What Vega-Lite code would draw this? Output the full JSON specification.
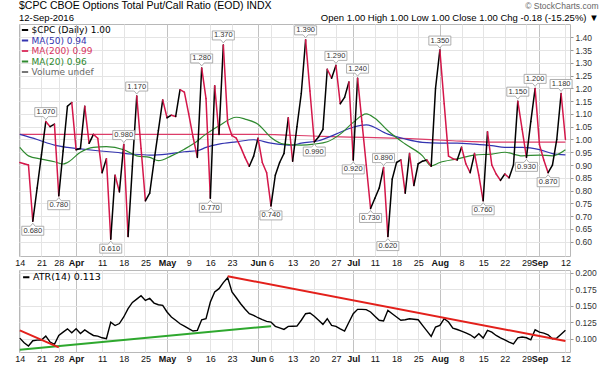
{
  "$schema": "https://vega.github.io/schema/vega-lite/v6.json",
  "background": "white",
  "padding": {"left": 14, "top": 0, "right": 5, "bottom": 2},
  "config": {
    "font": "Liberation Sans",
    "view": {"stroke": "#b8b8b8"},
    "axisY": {"labelOverlap": false, "domain": false, "tickSize": 3, "tickColor": "#999", "labelFontSize": 8.5, "labelColor": "#333", "labelPadding": 2, "grid": true, "gridColor": "#e4e4e4", "title": null},
    "axisX": {"labelOverlap": false, "domain": false, "ticks": false, "labelAngle": 0, "labelFontSize": 9, "labelColor": "#111", "labelPadding": 2, "grid": true, "title": null}
  },
  "title": {
    "text": "$CPC CBOE Options Total Put/Call Ratio (EOD) INDX",
    "subtitle": "12-Sep-2016",
    "anchor": "start",
    "frame": "group",
    "fontSize": 10.5,
    "fontWeight": "normal",
    "color": "#000",
    "subtitleFontSize": 9.5,
    "subtitleColor": "#000",
    "subtitlePadding": 2,
    "offset": -21
  },
  "spacing": 0,
  "resolve": {"scale": {"x": "shared", "color": "independent"}, "legend": {"color": "independent"}},
  "datasets": {
    "daily": [
      {"d": "2016-03-14", "cpc": 0.91, "atr": 0.101},
      {"d": "2016-03-15", "cpc": 0.905, "atr": 0.094},
      {"d": "2016-03-16", "cpc": 0.9, "atr": 0.089},
      {"d": "2016-03-17", "cpc": 0.68, "atr": 0.097},
      {"d": "2016-03-18", "cpc": 0.81, "atr": 0.098},
      {"d": "2016-03-21", "cpc": 0.94, "atr": 0.098},
      {"d": "2016-03-22", "cpc": 1.07, "atr": 0.104},
      {"d": "2016-03-23", "cpc": 1.05, "atr": 0.095},
      {"d": "2016-03-24", "cpc": 1.06, "atr": 0.0915},
      {"d": "2016-03-28", "cpc": 0.78, "atr": 0.105},
      {"d": "2016-03-29", "cpc": 0.955, "atr": 0.11},
      {"d": "2016-03-30", "cpc": 1.13, "atr": 0.115},
      {"d": "2016-03-31", "cpc": 1.145, "atr": 0.109},
      {"d": "2016-04-01", "cpc": 0.96, "atr": 0.115},
      {"d": "2016-04-04", "cpc": 0.965, "atr": 0.108},
      {"d": "2016-04-05", "cpc": 1.13, "atr": 0.1135},
      {"d": "2016-04-06", "cpc": 0.985, "atr": 0.109},
      {"d": "2016-04-07", "cpc": 1.02, "atr": 0.105},
      {"d": "2016-04-08", "cpc": 1.005, "atr": 0.104},
      {"d": "2016-04-11", "cpc": 0.87, "atr": 0.1015},
      {"d": "2016-04-12", "cpc": 0.925, "atr": 0.1},
      {"d": "2016-04-13", "cpc": 0.61, "atr": 0.125},
      {"d": "2016-04-14", "cpc": 0.86, "atr": 0.12},
      {"d": "2016-04-15", "cpc": 0.795, "atr": 0.123},
      {"d": "2016-04-18", "cpc": 0.98, "atr": 0.133},
      {"d": "2016-04-19", "cpc": 0.62, "atr": 0.1455},
      {"d": "2016-04-20", "cpc": 0.895, "atr": 0.155},
      {"d": "2016-04-21", "cpc": 1.17, "atr": 0.16},
      {"d": "2016-04-22", "cpc": 0.965, "atr": 0.165},
      {"d": "2016-04-25", "cpc": 0.76, "atr": 0.158},
      {"d": "2016-04-26", "cpc": 0.79, "atr": 0.161},
      {"d": "2016-04-27", "cpc": 0.915, "atr": 0.154},
      {"d": "2016-04-28", "cpc": 1.035, "atr": 0.1515},
      {"d": "2016-04-29", "cpc": 1.155, "atr": 0.1505},
      {"d": "2016-05-02", "cpc": 1.085, "atr": 0.1405},
      {"d": "2016-05-03", "cpc": 1.095, "atr": 0.133},
      {"d": "2016-05-04", "cpc": 1.09, "atr": 0.128},
      {"d": "2016-05-05", "cpc": 1.195, "atr": 0.1227},
      {"d": "2016-05-06", "cpc": 1.185, "atr": 0.119},
      {"d": "2016-05-09", "cpc": 1.1, "atr": 0.1152},
      {"d": "2016-05-10", "cpc": 1.01, "atr": 0.1117},
      {"d": "2016-05-11", "cpc": 0.93, "atr": 0.1127},
      {"d": "2016-05-12", "cpc": 1.28, "atr": 0.1288},
      {"d": "2016-05-13", "cpc": 1.16, "atr": 0.1303},
      {"d": "2016-05-16", "cpc": 0.77, "atr": 0.1556},
      {"d": "2016-05-17", "cpc": 1.21, "atr": 0.1708},
      {"d": "2016-05-18", "cpc": 1.02, "atr": 0.1758},
      {"d": "2016-05-19", "cpc": 1.37, "atr": 0.185},
      {"d": "2016-05-20", "cpc": 1.065, "atr": 0.1924},
      {"d": "2016-05-23", "cpc": 1.015, "atr": 0.1708},
      {"d": "2016-05-24", "cpc": 1.005, "atr": 0.162},
      {"d": "2016-05-25", "cpc": 0.97, "atr": 0.153},
      {"d": "2016-05-26", "cpc": 0.93, "atr": 0.145},
      {"d": "2016-05-27", "cpc": 0.895, "atr": 0.138},
      {"d": "2016-05-31", "cpc": 0.935, "atr": 0.1355},
      {"d": "2016-06-01", "cpc": 1.005, "atr": 0.1318},
      {"d": "2016-06-02", "cpc": 0.91, "atr": 0.129},
      {"d": "2016-06-03", "cpc": 0.87, "atr": 0.1264},
      {"d": "2016-06-06", "cpc": 0.74, "atr": 0.1253},
      {"d": "2016-06-07", "cpc": 0.86, "atr": 0.1188},
      {"d": "2016-06-08", "cpc": 0.91, "atr": 0.1165},
      {"d": "2016-06-09", "cpc": 0.945, "atr": 0.1142},
      {"d": "2016-06-10", "cpc": 1.085, "atr": 0.1188},
      {"d": "2016-06-13", "cpc": 0.915, "atr": 0.119},
      {"d": "2016-06-14", "cpc": 1.05, "atr": 0.1192},
      {"d": "2016-06-15", "cpc": 1.18, "atr": 0.128},
      {"d": "2016-06-16", "cpc": 1.39, "atr": 0.1379},
      {"d": "2016-06-17", "cpc": 1.19, "atr": 0.139},
      {"d": "2016-06-20", "cpc": 0.99, "atr": 0.134},
      {"d": "2016-06-21", "cpc": 1.01, "atr": 0.128},
      {"d": "2016-06-22", "cpc": 1.04, "atr": 0.1218},
      {"d": "2016-06-23", "cpc": 1.275, "atr": 0.1303},
      {"d": "2016-06-24", "cpc": 1.24, "atr": 0.1203},
      {"d": "2016-06-27", "cpc": 1.29, "atr": 0.1188},
      {"d": "2016-06-28", "cpc": 1.14, "atr": 0.115},
      {"d": "2016-06-29", "cpc": 1.165, "atr": 0.1117},
      {"d": "2016-06-30", "cpc": 1.225, "atr": 0.125},
      {"d": "2016-07-01", "cpc": 0.92, "atr": 0.1379},
      {"d": "2016-07-05", "cpc": 1.24, "atr": 0.1445},
      {"d": "2016-07-06", "cpc": 1.07, "atr": 0.1445},
      {"d": "2016-07-07", "cpc": 0.9, "atr": 0.144},
      {"d": "2016-07-08", "cpc": 0.73, "atr": 0.1405},
      {"d": "2016-07-11", "cpc": 0.77, "atr": 0.134},
      {"d": "2016-07-12", "cpc": 0.81, "atr": 0.128},
      {"d": "2016-07-13", "cpc": 0.89, "atr": 0.1268},
      {"d": "2016-07-14", "cpc": 0.62, "atr": 0.143},
      {"d": "2016-07-15", "cpc": 0.845, "atr": 0.1379},
      {"d": "2016-07-18", "cpc": 0.91, "atr": 0.133},
      {"d": "2016-07-19", "cpc": 0.92, "atr": 0.128},
      {"d": "2016-07-20", "cpc": 0.79, "atr": 0.1288},
      {"d": "2016-07-21", "cpc": 0.945, "atr": 0.1303},
      {"d": "2016-07-22", "cpc": 0.82, "atr": 0.1295},
      {"d": "2016-07-25", "cpc": 0.905, "atr": 0.1288},
      {"d": "2016-07-26", "cpc": 0.915, "atr": 0.1203},
      {"d": "2016-07-27", "cpc": 0.92, "atr": 0.112},
      {"d": "2016-07-28", "cpc": 0.895, "atr": 0.1036},
      {"d": "2016-07-29", "cpc": 1.2, "atr": 0.1177},
      {"d": "2016-08-01", "cpc": 1.35, "atr": 0.1203},
      {"d": "2016-08-02", "cpc": 1.14, "atr": 0.1303},
      {"d": "2016-08-03", "cpc": 0.935, "atr": 0.1253},
      {"d": "2016-08-04", "cpc": 0.925, "atr": 0.1162},
      {"d": "2016-08-05", "cpc": 0.92, "atr": 0.114},
      {"d": "2016-08-08", "cpc": 0.97, "atr": 0.1117},
      {"d": "2016-08-09", "cpc": 0.905, "atr": 0.109},
      {"d": "2016-08-10", "cpc": 0.87, "atr": 0.1061},
      {"d": "2016-08-11", "cpc": 0.945, "atr": 0.1015},
      {"d": "2016-08-12", "cpc": 0.86, "atr": 0.1076},
      {"d": "2016-08-15", "cpc": 0.76, "atr": 0.101},
      {"d": "2016-08-16", "cpc": 1.03, "atr": 0.1127},
      {"d": "2016-08-17", "cpc": 0.9, "atr": 0.11},
      {"d": "2016-08-18", "cpc": 0.865, "atr": 0.105},
      {"d": "2016-08-19", "cpc": 0.84, "atr": 0.1015},
      {"d": "2016-08-22", "cpc": 0.865, "atr": 0.0985},
      {"d": "2016-08-23", "cpc": 0.85, "atr": 0.095},
      {"d": "2016-08-24", "cpc": 0.9, "atr": 0.0924},
      {"d": "2016-08-25", "cpc": 1.15, "atr": 0.1015},
      {"d": "2016-08-26", "cpc": 1.04, "atr": 0.1026},
      {"d": "2016-08-29", "cpc": 0.93, "atr": 0.1015},
      {"d": "2016-08-30", "cpc": 1.07, "atr": 0.0985},
      {"d": "2016-08-31", "cpc": 1.2, "atr": 0.1136},
      {"d": "2016-09-01", "cpc": 0.98, "atr": 0.11},
      {"d": "2016-09-02", "cpc": 0.92, "atr": 0.1086},
      {"d": "2016-09-06", "cpc": 0.87, "atr": 0.1061},
      {"d": "2016-09-07", "cpc": 0.9, "atr": 0.1},
      {"d": "2016-09-08", "cpc": 1.0, "atr": 0.101},
      {"d": "2016-09-09", "cpc": 1.18, "atr": 0.107},
      {"d": "2016-09-12", "cpc": 1.0, "atr": 0.113}
    ],
    "highs": [
      {"d": "2016-03-22", "v": 1.07}, {"d": "2016-04-18", "v": 0.98}, {"d": "2016-04-21", "v": 1.17},
      {"d": "2016-05-12", "v": 1.28}, {"d": "2016-05-19", "v": 1.37}, {"d": "2016-06-16", "v": 1.39},
      {"d": "2016-06-27", "v": 1.29}, {"d": "2016-07-05", "v": 1.24}, {"d": "2016-07-13", "v": 0.89},
      {"d": "2016-08-01", "v": 1.35}, {"d": "2016-08-25", "v": 1.15}, {"d": "2016-08-31", "v": 1.2},
      {"d": "2016-09-09", "v": 1.18}
    ],
    "lows": [
      {"d": "2016-03-17", "v": 0.68}, {"d": "2016-03-28", "v": 0.78}, {"d": "2016-04-13", "v": 0.61},
      {"d": "2016-05-16", "v": 0.77}, {"d": "2016-06-06", "v": 0.74}, {"d": "2016-06-20", "v": 0.99},
      {"d": "2016-07-01", "v": 0.92}, {"d": "2016-07-08", "v": 0.73}, {"d": "2016-07-14", "v": 0.62},
      {"d": "2016-08-15", "v": 0.76}, {"d": "2016-08-29", "v": 0.93}, {"d": "2016-09-06", "v": 0.87}
    ],
    "ma": [
      {"s": "MA(200) 0.99", "d": "2016-03-14", "v": 1.02},
      {"s": "MA(200) 0.99", "d": "2016-04-26", "v": 1.02},
      {"s": "MA(200) 0.99", "d": "2016-06-01", "v": 1.02},
      {"s": "MA(200) 0.99", "d": "2016-06-22", "v": 1.012},
      {"s": "MA(200) 0.99", "d": "2016-07-07", "v": 1.008},
      {"s": "MA(200) 0.99", "d": "2016-07-21", "v": 1.003},
      {"s": "MA(200) 0.99", "d": "2016-08-04", "v": 0.995},
      {"s": "MA(200) 0.99", "d": "2016-08-18", "v": 0.99},
      {"s": "MA(200) 0.99", "d": "2016-09-12", "v": 0.99},
      {"s": "MA(50) 0.94", "d": "2016-03-14", "v": 1.02},
      {"s": "MA(50) 0.94", "d": "2016-03-18", "v": 1.0},
      {"s": "MA(50) 0.94", "d": "2016-03-24", "v": 0.978},
      {"s": "MA(50) 0.94", "d": "2016-03-30", "v": 0.969},
      {"s": "MA(50) 0.94", "d": "2016-04-04", "v": 0.963},
      {"s": "MA(50) 0.94", "d": "2016-04-08", "v": 0.956},
      {"s": "MA(50) 0.94", "d": "2016-04-14", "v": 0.95},
      {"s": "MA(50) 0.94", "d": "2016-04-20", "v": 0.943},
      {"s": "MA(50) 0.94", "d": "2016-04-26", "v": 0.939},
      {"s": "MA(50) 0.94", "d": "2016-05-02", "v": 0.943},
      {"s": "MA(50) 0.94", "d": "2016-05-06", "v": 0.952},
      {"s": "MA(50) 0.94", "d": "2016-05-11", "v": 0.956},
      {"s": "MA(50) 0.94", "d": "2016-05-13", "v": 0.969},
      {"s": "MA(50) 0.94", "d": "2016-05-18", "v": 0.982},
      {"s": "MA(50) 0.94", "d": "2016-05-24", "v": 0.991},
      {"s": "MA(50) 0.94", "d": "2016-05-31", "v": 0.999},
      {"s": "MA(50) 0.94", "d": "2016-06-06", "v": 0.986},
      {"s": "MA(50) 0.94", "d": "2016-06-13", "v": 0.978},
      {"s": "MA(50) 0.94", "d": "2016-06-15", "v": 0.986},
      {"s": "MA(50) 0.94", "d": "2016-06-21", "v": 0.995},
      {"s": "MA(50) 0.94", "d": "2016-06-27", "v": 1.021},
      {"s": "MA(50) 0.94", "d": "2016-07-01", "v": 1.048},
      {"s": "MA(50) 0.94", "d": "2016-07-07", "v": 1.057},
      {"s": "MA(50) 0.94", "d": "2016-07-14", "v": 1.021},
      {"s": "MA(50) 0.94", "d": "2016-07-20", "v": 1.002},
      {"s": "MA(50) 0.94", "d": "2016-07-26", "v": 0.989},
      {"s": "MA(50) 0.94", "d": "2016-08-01", "v": 0.986},
      {"s": "MA(50) 0.94", "d": "2016-08-05", "v": 0.986},
      {"s": "MA(50) 0.94", "d": "2016-08-11", "v": 0.982},
      {"s": "MA(50) 0.94", "d": "2016-08-17", "v": 0.976},
      {"s": "MA(50) 0.94", "d": "2016-08-22", "v": 0.969},
      {"s": "MA(50) 0.94", "d": "2016-08-26", "v": 0.969},
      {"s": "MA(50) 0.94", "d": "2016-09-01", "v": 0.96},
      {"s": "MA(50) 0.94", "d": "2016-09-07", "v": 0.945},
      {"s": "MA(50) 0.94", "d": "2016-09-12", "v": 0.94},
      {"s": "MA(20) 0.96", "d": "2016-03-14", "v": 0.969},
      {"s": "MA(20) 0.96", "d": "2016-03-16", "v": 0.936},
      {"s": "MA(20) 0.96", "d": "2016-03-21", "v": 0.923},
      {"s": "MA(20) 0.96", "d": "2016-03-24", "v": 0.913},
      {"s": "MA(20) 0.96", "d": "2016-03-29", "v": 0.904},
      {"s": "MA(20) 0.96", "d": "2016-03-30", "v": 0.91},
      {"s": "MA(20) 0.96", "d": "2016-04-04", "v": 0.95},
      {"s": "MA(20) 0.96", "d": "2016-04-07", "v": 0.969},
      {"s": "MA(20) 0.96", "d": "2016-04-12", "v": 0.972},
      {"s": "MA(20) 0.96", "d": "2016-04-18", "v": 0.96},
      {"s": "MA(20) 0.96", "d": "2016-04-21", "v": 0.936},
      {"s": "MA(20) 0.96", "d": "2016-04-26", "v": 0.93},
      {"s": "MA(20) 0.96", "d": "2016-04-28", "v": 0.917},
      {"s": "MA(20) 0.96", "d": "2016-05-03", "v": 0.936},
      {"s": "MA(20) 0.96", "d": "2016-05-06", "v": 0.962},
      {"s": "MA(20) 0.96", "d": "2016-05-10", "v": 0.982},
      {"s": "MA(20) 0.96", "d": "2016-05-13", "v": 1.021},
      {"s": "MA(20) 0.96", "d": "2016-05-18", "v": 1.054},
      {"s": "MA(20) 0.96", "d": "2016-05-24", "v": 1.087},
      {"s": "MA(20) 0.96", "d": "2016-05-26", "v": 1.08},
      {"s": "MA(20) 0.96", "d": "2016-06-01", "v": 1.06},
      {"s": "MA(20) 0.96", "d": "2016-06-06", "v": 1.008},
      {"s": "MA(20) 0.96", "d": "2016-06-09", "v": 0.982},
      {"s": "MA(20) 0.96", "d": "2016-06-15", "v": 0.978},
      {"s": "MA(20) 0.96", "d": "2016-06-20", "v": 0.982},
      {"s": "MA(20) 0.96", "d": "2016-06-23", "v": 0.991},
      {"s": "MA(20) 0.96", "d": "2016-06-28", "v": 1.021},
      {"s": "MA(20) 0.96", "d": "2016-07-01", "v": 1.067},
      {"s": "MA(20) 0.96", "d": "2016-07-07", "v": 1.1},
      {"s": "MA(20) 0.96", "d": "2016-07-11", "v": 1.083},
      {"s": "MA(20) 0.96", "d": "2016-07-14", "v": 1.034},
      {"s": "MA(20) 0.96", "d": "2016-07-20", "v": 0.982},
      {"s": "MA(20) 0.96", "d": "2016-07-26", "v": 0.936},
      {"s": "MA(20) 0.96", "d": "2016-07-28", "v": 0.897},
      {"s": "MA(20) 0.96", "d": "2016-08-01", "v": 0.91},
      {"s": "MA(20) 0.96", "d": "2016-08-05", "v": 0.924},
      {"s": "MA(20) 0.96", "d": "2016-08-11", "v": 0.939},
      {"s": "MA(20) 0.96", "d": "2016-08-17", "v": 0.943},
      {"s": "MA(20) 0.96", "d": "2016-08-22", "v": 0.95},
      {"s": "MA(20) 0.96", "d": "2016-08-26", "v": 0.936},
      {"s": "MA(20) 0.96", "d": "2016-09-01", "v": 0.939},
      {"s": "MA(20) 0.96", "d": "2016-09-07", "v": 0.936},
      {"s": "MA(20) 0.96", "d": "2016-09-12", "v": 0.96}
    ],
    "trend": [
      {"kind": "resistance", "seg": "a", "d": "2016-03-14", "atr": 0.1127},
      {"kind": "resistance", "seg": "a", "d": "2016-03-28", "atr": 0.087},
      {"kind": "resistance", "seg": "b", "d": "2016-05-20", "atr": 0.1945},
      {"kind": "resistance", "seg": "b", "d": "2016-09-12", "atr": 0.0965},
      {"kind": "support", "seg": "c", "d": "2016-03-14", "atr": 0.0833},
      {"kind": "support", "seg": "c", "d": "2016-06-06", "atr": 0.119}
    ]
  },
  "vconcat": [
    {
      "width": 551,
      "height": 232,
      "title": {
        "text": "© StockCharts.com",
        "subtitle": "Open 1.00  High 1.00  Low 1.00  Close 1.00  Chg -0.18 (-15.25%) ▼",
        "anchor": "end",
        "fontSize": 8.5,
        "fontWeight": "normal",
        "color": "#666",
        "subtitleFontSize": 9.5,
        "subtitleColor": "#000",
        "subtitlePadding": 2,
        "offset": 2,
        "dx": 7
      },
      "layer": [
        {
          "data": {"name": "ma"},
          "mark": {"type": "line", "strokeWidth": 1.2, "interpolate": "monotone"},
          "encoding": {
            "x": {
              "field": "d", "type": "ordinal",
              "scale": {"type": "point", "padding": 0.62, "align": 0.15},
              "axis": {
                "orient": "bottom",
                "values": ["2016-03-14","2016-03-21","2016-03-28","2016-04-01","2016-04-11","2016-04-18","2016-04-25","2016-05-02","2016-05-09","2016-05-16","2016-05-23","2016-06-01","2016-06-06","2016-06-13","2016-06-20","2016-06-27","2016-07-01","2016-07-11","2016-07-18","2016-07-25","2016-08-01","2016-08-08","2016-08-15","2016-08-22","2016-08-29","2016-09-01","2016-09-12"],
                "labelExpr": "(slice(datum.value, 8) == '01' || datum.value == '2016-05-02') ? timeFormat(datetime(2016, toNumber(slice(datum.value, 5, 7)) - 1, 1), '%b') : '' + toNumber(slice(datum.value, 8))",
                "labelFontWeight": {"condition": {"test": "slice(datum.value, 8) == '01' || datum.value == '2016-05-02'", "value": "bold"}, "value": "normal"},
                "gridColor": {"condition": {"test": "slice(datum.value, 8) == '01' || datum.value == '2016-05-02'", "value": "#c2c2c2"}, "value": "#e4e4e4"}
              }
            },
            "y": {
              "field": "v", "type": "quantitative",
              "scale": {"domain": [0.544, 1.452], "nice": false, "zero": false},
              "axis": {"orient": "right", "format": ".2f", "values": [0.6, 0.65, 0.7, 0.75, 0.8, 0.85, 0.9, 0.95, 1.0, 1.05, 1.1, 1.15, 1.2, 1.25, 1.3, 1.35, 1.4]}
            },
            "color": {
              "field": "s", "type": "nominal",
              "scale": {
                "domain": ["$CPC (Daily) 1.00", "MA(50) 0.94", "MA(200) 0.99", "MA(20) 0.96", "Volume undef"],
                "range": ["#000000", "#3434b0", "#dc3c68", "#2f8a2f", "#777777"]
              },
              "legend": {
                "orient": "top-left", "title": null, "offset": 1, "padding": 0.5,
                "symbolType": "stroke", "symbolSize": 40, "symbolStrokeWidth": 2,
                "labelFont": "DejaVu Sans", "labelFontSize": 9, "labelOffset": 2, "rowPadding": 0.5,
                "labelColor": {"expr": "datum.value == 'MA(50) 0.94' ? '#3434b0' : datum.value == 'MA(200) 0.99' ? '#d8345f' : datum.value == 'MA(20) 0.96' ? '#2f8a2f' : datum.value == 'Volume undef' ? '#666666' : '#000000'"}
              }
            }
          }
        },
        {
          "data": {"name": "daily"},
          "transform": [
            {"window": [{"op": "lag", "field": "cpc", "as": "pv"}, {"op": "lag", "field": "d", "as": "pd"}], "sort": [{"field": "d", "order": "ascending"}]},
            {"filter": "datum.pd != null"}
          ],
          "mark": {"type": "rule", "strokeWidth": 1.5, "strokeCap": "round"},
          "encoding": {
            "x": {"field": "d", "type": "ordinal"},
            "x2": {"field": "pd"},
            "y": {"field": "cpc", "type": "quantitative", "axis": {"orient": "right", "format": ".2f", "values": [0.6, 0.65, 0.7, 0.75, 0.8, 0.85, 0.9, 0.95, 1.0, 1.05, 1.1, 1.15, 1.2, 1.25, 1.3, 1.35, 1.4]}},
            "y2": {"field": "pv"},
            "color": {"condition": {"test": "datum.cpc < datum.pv", "value": "#d4174a"}, "value": "#000000"}
          }
        },
        {
          "data": {"name": "highs"},
          "mark": {"type": "point", "shape": "M-11,-14H11V-5H2.5L0,-2L-2.5,-5H-11Z", "size": 4, "filled": true, "fill": "#ffffff", "stroke": "#9a9a9a", "strokeWidth": 0.8, "opacity": 1},
          "encoding": {"x": {"field": "d", "type": "ordinal"}, "y": {"field": "v", "type": "quantitative", "axis": {"orient": "right", "format": ".2f", "values": [0.6, 0.65, 0.7, 0.75, 0.8, 0.85, 0.9, 0.95, 1.0, 1.05, 1.1, 1.15, 1.2, 1.25, 1.3, 1.35, 1.4]}}}
        },
        {
          "data": {"name": "highs"},
          "mark": {"type": "text", "dy": -9.5, "fontSize": 7.5, "color": "#333", "baseline": "middle"},
          "encoding": {"x": {"field": "d", "type": "ordinal"}, "y": {"field": "v", "type": "quantitative", "axis": {"orient": "right", "format": ".2f", "values": [0.6, 0.65, 0.7, 0.75, 0.8, 0.85, 0.9, 0.95, 1.0, 1.05, 1.1, 1.15, 1.2, 1.25, 1.3, 1.35, 1.4]}}, "text": {"field": "v", "type": "quantitative", "format": ".3f"}}
        },
        {
          "data": {"name": "lows"},
          "mark": {"type": "point", "shape": "M-11,14H11V5H2.5L0,2L-2.5,5H-11Z", "size": 4, "filled": true, "fill": "#ffffff", "stroke": "#9a9a9a", "strokeWidth": 0.8, "opacity": 1},
          "encoding": {"x": {"field": "d", "type": "ordinal"}, "y": {"field": "v", "type": "quantitative", "axis": {"orient": "right", "format": ".2f", "values": [0.6, 0.65, 0.7, 0.75, 0.8, 0.85, 0.9, 0.95, 1.0, 1.05, 1.1, 1.15, 1.2, 1.25, 1.3, 1.35, 1.4]}}}
        },
        {
          "data": {"name": "lows"},
          "mark": {"type": "text", "dy": 9.5, "fontSize": 7.5, "color": "#333", "baseline": "middle"},
          "encoding": {"x": {"field": "d", "type": "ordinal"}, "y": {"field": "v", "type": "quantitative", "axis": {"orient": "right", "format": ".2f", "values": [0.6, 0.65, 0.7, 0.75, 0.8, 0.85, 0.9, 0.95, 1.0, 1.05, 1.1, 1.15, 1.2, 1.25, 1.3, 1.35, 1.4]}}, "text": {"field": "v", "type": "quantitative", "format": ".3f"}}
        }
      ]
    },
    {
      "width": 551,
      "height": 82,
      "layer": [
        {
          "data": {"name": "daily"},
          "mark": {"type": "line", "strokeWidth": 1.4},
          "encoding": {
            "x": {
              "field": "d", "type": "ordinal",
              "scale": {"type": "point", "padding": 0.62, "align": 0.15},
              "axis": {
                "orient": "bottom",
                "values": ["2016-03-14","2016-03-21","2016-03-28","2016-04-01","2016-04-11","2016-04-18","2016-04-25","2016-05-02","2016-05-09","2016-05-16","2016-05-23","2016-06-01","2016-06-06","2016-06-13","2016-06-20","2016-06-27","2016-07-01","2016-07-11","2016-07-18","2016-07-25","2016-08-01","2016-08-08","2016-08-15","2016-08-22","2016-08-29","2016-09-01","2016-09-12"],
                "labelExpr": "(slice(datum.value, 8) == '01' || datum.value == '2016-05-02') ? timeFormat(datetime(2016, toNumber(slice(datum.value, 5, 7)) - 1, 1), '%b') : '' + toNumber(slice(datum.value, 8))",
                "labelFontWeight": {"condition": {"test": "slice(datum.value, 8) == '01' || datum.value == '2016-05-02'", "value": "bold"}, "value": "normal"},
                "gridColor": {"condition": {"test": "slice(datum.value, 8) == '01' || datum.value == '2016-05-02'", "value": "#c2c2c2"}, "value": "#e4e4e4"}
              }
            },
            "y": {
              "field": "atr", "type": "quantitative",
              "scale": {"domain": [0.08, 0.204], "nice": false, "zero": false},
              "axis": {"orient": "right", "format": ".3f", "values": [0.1, 0.125, 0.15, 0.175, 0.2]}
            },
            "color": {
              "datum": "ATR(14) 0.113", "type": "nominal",
              "scale": {"range": ["#000000"]},
              "legend": {
                "orient": "top-left", "title": null, "offset": 2, "padding": 0.5,
                "symbolType": "stroke", "symbolSize": 40, "symbolStrokeWidth": 2,
                "labelFont": "DejaVu Sans", "labelFontSize": 9.5, "labelOffset": 2, "labelColor": "#000"
              }
            }
          }
        },
        {
          "data": {"name": "trend"},
          "transform": [{"filter": "datum.kind == 'support'"}],
          "mark": {"type": "line", "color": "#2ea82e", "strokeWidth": 2},
          "encoding": {"x": {"field": "d", "type": "ordinal"}, "y": {"field": "atr", "type": "quantitative", "axis": {"orient": "right", "format": ".3f", "values": [0.1, 0.125, 0.15, 0.175, 0.2]}}, "detail": {"field": "seg"}}
        },
        {
          "data": {"name": "trend"},
          "transform": [{"filter": "datum.kind == 'resistance'"}],
          "mark": {"type": "line", "color": "#e3201b", "strokeWidth": 2},
          "encoding": {"x": {"field": "d", "type": "ordinal"}, "y": {"field": "atr", "type": "quantitative", "axis": {"orient": "right", "format": ".3f", "values": [0.1, 0.125, 0.15, 0.175, 0.2]}}, "detail": {"field": "seg"}}
        }
      ]
    }
  ]
}
